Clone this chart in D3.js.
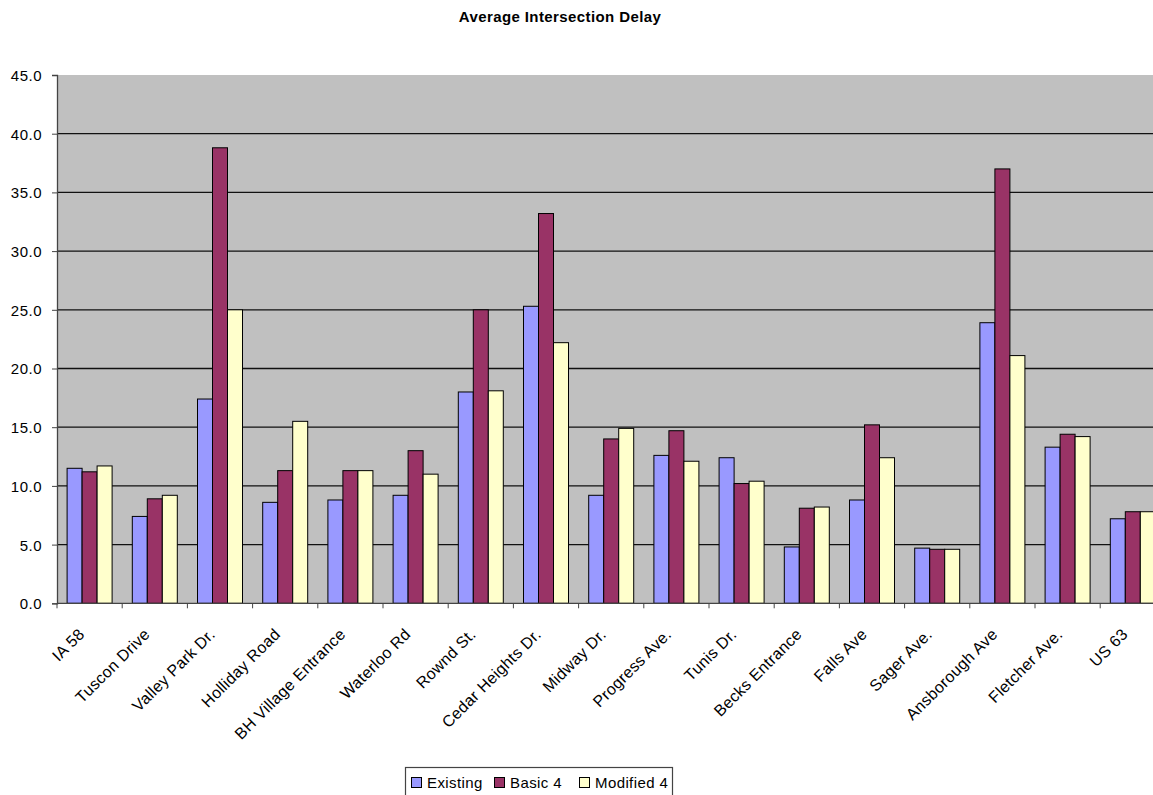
<!DOCTYPE html>
<html>
<head>
<meta charset="utf-8">
<script src="https://cdn.jsdelivr.net/npm/d3@7"></script>
<style>
  html, body { margin: 0; padding: 0; background: #ffffff; }
  svg { display: block; }
  text { font-family: "Liberation Sans", Arial, sans-serif; fill: #000; }
</style>
</head>
<body>
<svg id="chart" width="1153" height="795"></svg>
<script>
// Intersections studied
const categories = [
  "IA 58", "Tuscon Drive", "Valley Park Dr.", "Holliday Road", "BH Village Entrance",
  "Waterloo Rd", "Rownd St.", "Cedar Heights Dr.", "Midway Dr.", "Progress Ave.",
  "Tunis Dr.", "Becks Entrance", "Falls Ave", "Sager Ave.", "Ansborough Ave",
  "Fletcher Ave.", "US 63"
];

// Average delay per scenario (seconds)
const existing   = [11.5, 7.4, 17.4, 8.6, 8.8, 9.2, 18.0, 25.3, 9.2, 12.6, 12.4, 4.8, 8.8, 4.7, 23.9, 13.3, 7.2];
const basic4     = [11.2, 8.9, 38.8, 11.3, 11.3, 13.0, 25.0, 33.2, 14.0, 14.7, 10.2, 8.1, 15.2, 4.6, 37.0, 14.4, 7.8];
const modified4  = [11.7, 9.2, 25.0, 15.5, 11.3, 11.0, 18.1, 22.2, 14.9, 12.1, 10.4, 8.2, 12.4, 4.6, 21.1, 14.2, 7.8];

const seriesNames = ["Existing", "Basic 4", "Modified 4"];
const seriesColors = ["#9999FF", "#993366", "#FFFFCC"];
const yTicks = [0, 5, 10, 15, 20, 25, 30, 35, 40, 45];

const seriesValues = [existing, basic4, modified4];
const rows = categories.map((c, i) => ({
  name: c,
  values: seriesNames.map((s, k) => ({ series: s, k: k, value: seriesValues[k][i] }))
}));

const svg = d3.select("#chart");

// Plot frame (the plot area runs slightly past the right edge of the page)
const plotLeft = 57, plotTop = 75, plotBottom = 603.3;
const bandStep = 65.2;
const plotRight = plotLeft + bandStep * categories.length;

const x = d3.scaleBand().domain(categories).range([plotLeft, plotRight]).paddingInner(0).paddingOuter(0);
const groupWidth = 45;
const groupOffset = (x.bandwidth() - groupWidth) / 2;
const xs = d3.scaleBand().domain(seriesNames).range([groupOffset, groupOffset + groupWidth]).padding(0);
const y = d3.scaleLinear().domain([0, 45]).range([plotBottom, plotTop]);

// Title
svg.append("text")
  .attr("x", 560).attr("y", 22)
  .attr("text-anchor", "middle")
  .style("font-size", "15px").style("font-weight", "bold").style("letter-spacing", "0.4px")
  .text("Average Intersection Delay");

// Plot background
svg.append("rect")
  .attr("x", plotLeft).attr("y", plotTop)
  .attr("width", plotRight - plotLeft).attr("height", plotBottom - plotTop)
  .attr("fill", "#C0C0C0");

// Horizontal gridlines
svg.append("g")
  .selectAll("line")
  .data(yTicks.filter(t => t > 0 && t < 45))
  .join("line")
  .attr("x1", plotLeft).attr("x2", plotRight)
  .attr("y1", d => y(d)).attr("y2", d => y(d))
  .attr("stroke", "#111").attr("stroke-width", 1.3);

// Bars
const groups = svg.append("g")
  .selectAll("g")
  .data(rows)
  .join("g")
  .attr("transform", d => `translate(${x(d.name)},0)`);

groups.selectAll("rect")
  .data(d => d.values)
  .join("rect")
  .attr("x", d => xs(d.series))
  .attr("width", xs.bandwidth())
  .attr("y", d => y(d.value))
  .attr("height", d => y(0) - y(d.value))
  .attr("fill", d => seriesColors[d.k])
  .attr("stroke", "#000")
  .attr("stroke-width", 1);

// Y axis
const yAxis = svg.append("g")
  .attr("transform", `translate(${plotLeft},0)`)
  .call(d3.axisLeft(y).tickValues(yTicks).tickFormat(d3.format(".1f")).tickSize(5).tickPadding(10));
yAxis.select(".domain").attr("stroke", "#444").attr("stroke-width", 1.3);
yAxis.selectAll(".tick line").attr("stroke", "#444");
yAxis.selectAll(".tick text")
  .style("font-size", "15px").style("letter-spacing", "0.5px")
  .attr("font-family", null).attr("dy", "0.36em");

// X axis with ticks at category boundaries
const xAxisG = svg.append("g").attr("transform", `translate(0,${plotBottom})`);
xAxisG.append("line")
  .attr("x1", plotLeft).attr("x2", plotRight)
  .attr("stroke", "#444").attr("stroke-width", 1.3);
xAxisG.selectAll("line.tk")
  .data(categories.map((c, i) => i).concat([categories.length]))
  .join("line")
  .attr("class", "tk")
  .attr("x1", i => plotLeft + i * x.step()).attr("x2", i => plotLeft + i * x.step())
  .attr("y1", 0).attr("y2", 5)
  .attr("stroke", "#444");

// Rotated category labels
xAxisG.selectAll("text")
  .data(categories)
  .join("text")
  .attr("text-anchor", "end")
  .attr("transform", d => `translate(${x(d) + x.bandwidth() / 2 - 4},${32}) rotate(-45)`)
  .style("font-size", "16px").style("letter-spacing", "0.3px")
  .text(d => d);

// Legend
const legend = svg.append("g");
legend.append("rect")
  .attr("x", 405.5).attr("y", 767.5)
  .attr("width", 267).attr("height", 32)
  .attr("fill", "#fff").attr("stroke", "#444").attr("stroke-width", 1.2);

const legendX = [411, 494, 579];
const items = legend.selectAll("g.item")
  .data(seriesNames)
  .join("g")
  .attr("class", "item")
  .attr("transform", (d, i) => `translate(${legendX[i]},777)`);
items.append("rect")
  .attr("x", 0.5).attr("y", 0.5)
  .attr("width", 10).attr("height", 10)
  .attr("fill", (d, i) => seriesColors[i])
  .attr("stroke", "#000");
items.append("text")
  .attr("x", 16).attr("y", 11)
  .style("font-size", "15px").style("letter-spacing", "0.4px")
  .text(d => d);
</script>
</body>
</html>
